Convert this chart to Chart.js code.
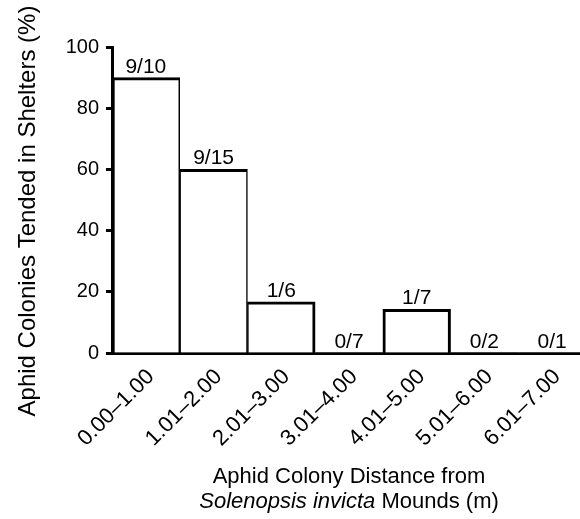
<!DOCTYPE html>
<html><head><meta charset="utf-8">
<script src="https://cdn.jsdelivr.net/npm/chart.js@4"></script>
<style>
html,body{margin:0;padding:0;overflow:hidden;background:#fff;}
#wrap{position:relative;width:592px;height:519px;}
</style></head>
<body><div id="wrap"><canvas id="c"></canvas></div>
<script>
const categories = ["0.00–1.00","1.01–2.00","2.01–3.00","3.01–4.00","4.01–5.00","5.01–6.00","6.01–7.00"];
const percentTended = [90, 60, 16.7, 0, 14.3, 0, 0];
const fractionLabels = ["9/10","9/15","1/6","0/7","1/7","0/2","0/1"];
const yTicks = [0, 20, 40, 60, 80, 100];
const yTitle = "Aphid Colonies Tended in Shelters (%)";
const xTitleLine1 = "Aphid Colony Distance from";
const xTitleItalic = "Solenopsis invicta";
const xTitleRest = " Mounds (m)";

const FONT = '"Liberation Sans", Arial, Helvetica, sans-serif';

const annot = {
  id: 'annot',
  afterDatasetsDraw(chart) {
    const ctx = chart.ctx;
    const meta = chart.getDatasetMeta(0);
    ctx.save();
    ctx.fillStyle = '#000';
    ctx.font = '21px ' + FONT;
    ctx.textAlign = 'center';
    ctx.textBaseline = 'alphabetic';
    meta.data.forEach((bar, i) => {
      ctx.fillText(fractionLabels[i], bar.x, bar.y - 5);
    });
    ctx.restore();
  },
  afterDraw(chart) {
    const ctx = chart.ctx;
    const ca = chart.chartArea;
    ctx.save();
    ctx.fillStyle = '#000';
    // y title
    ctx.save();
    ctx.translate(28, 211);
    ctx.rotate(-Math.PI / 2);
    ctx.font = '24px ' + FONT;
    ctx.textAlign = 'center';
    ctx.textBaseline = 'middle';
    ctx.fillText(yTitle, 0, 0);
    ctx.restore();
    // x title
    const cx = (ca.left + ca.right) / 2;
    ctx.font = '22px ' + FONT;
    ctx.textAlign = 'center';
    ctx.textBaseline = 'alphabetic';
    ctx.fillText(xTitleLine1, cx, 483);
    const italicFont = 'italic 22px ' + FONT;
    const normalFont = '22px ' + FONT;
    ctx.font = italicFont;
    const w1 = ctx.measureText(xTitleItalic).width;
    ctx.font = normalFont;
    const w2 = ctx.measureText(xTitleRest).width;
    let x0 = cx - (w1 + w2) / 2;
    ctx.textAlign = 'left';
    ctx.font = italicFont;
    ctx.fillText(xTitleItalic, x0, 508);
    ctx.font = normalFont;
    ctx.fillText(xTitleRest, x0 + w1, 508);
    ctx.restore();
  }
};

function sideWidth(ctx) {
  const i = ctx.dataIndex;
  const v = percentTended[i];
  if (!v) return 0;
  const prev = i > 0 ? percentTended[i - 1] : 0;
  const next = i < percentTended.length - 1 ? percentTended[i + 1] : 0;
  return { top: 3, left: prev > 0 ? 1.5 : 3, right: next > 0 ? 1.5 : 3, bottom: 0 };
}

new Chart(document.getElementById('c'), {
  type: 'bar',
  data: {
    labels: categories,
    datasets: [{
      data: percentTended,
      backgroundColor: '#fff',
      borderColor: '#000',
      borderWidth: sideWidth,
      borderSkipped: 'start',
      categoryPercentage: 1.0,
      barPercentage: 1.0
    }]
  },
  options: {
    responsive: true,
    maintainAspectRatio: false,
    animation: false,
    layout: { padding: { left: 0, top: 47, right: 6, bottom: 0 } },
    plugins: { legend: { display: false }, tooltip: { enabled: false } },
    scales: {
      x: {
        grid: { display: false, drawTicks: false },
        border: { display: true, color: '#000', width: 3 },
        ticks: {
          color: '#000',
          font: { size: 22, family: FONT },
          minRotation: 45,
          maxRotation: 45,
          padding: 11,
          labelOffset: 5,
          autoSkip: false
        },
        afterFit: s => { s.height = 166; }
      },
      y: {
        min: 0,
        max: 100,
        grid: { display: true, drawOnChartArea: false, drawTicks: true, tickLength: 6, tickWidth: 3, tickColor: '#000' },
        border: { display: true, color: '#000', width: 3 },
        ticks: {
          color: '#000',
          font: { size: 20, family: FONT },
          padding: 7
        },
        afterBuildTicks: s => { s.ticks = yTicks.map(v => ({ value: v })); },
        afterFit: s => { s.width = 112; }
      }
    }
  },
  plugins: [annot]
});
</script>
</body></html>
